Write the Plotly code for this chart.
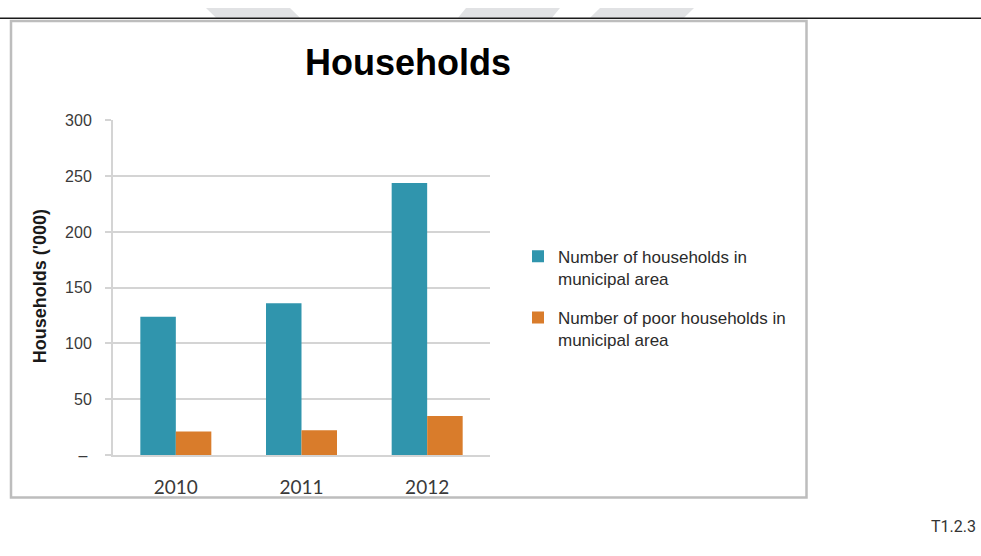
import plotly.graph_objects as go

W, H = 981, 556

years = ["2010", "2011", "2012"]
households = [124, 136, 244]
poor_households = [21, 22, 35]
series_names = [
    "Number of households in<br>municipal area",
    "Number of poor households in<br>municipal area",
]
y_tickvals = [0, 50, 100, 150, 200, 250, 300]
y_ticktext = ["\u2013\u00a0", "50", "100", "150", "200", "250", "300"]

TEAL = "#3095ad"
ORANGE = "#d97c2b"
GRID = "#d4d4d4"


def px_x(x):
    return x / W


def px_y(y):
    return 1 - y / H


fig = go.Figure()
fig.add_trace(go.Bar(x=years, y=households, name=series_names[0],
                     marker=dict(color=TEAL, line=dict(width=0)),
                     legendgroup="a"))
fig.add_trace(go.Bar(x=years, y=poor_households, name=series_names[1],
                     marker=dict(color=ORANGE, line=dict(width=0)),
                     legendgroup="b"))

fig.update_layout(
    width=W, height=H,
    margin=dict(l=0, r=0, t=0, b=0),
    paper_bgcolor="white", plot_bgcolor="white",
    barmode="group", bargap=0.435, bargroupgap=0,
    showlegend=True,
    legend=dict(
        x=px_x(518), xanchor="left",
        y=px_y(238), yanchor="top",
        valign="top",
        traceorder="grouped",
        tracegroupgap=14,
        font=dict(family="Liberation Sans, Arial, sans-serif", size=17, color="#2b2b2b"),
        bgcolor="rgba(0,0,0,0)",
    ),
    xaxis=dict(
        domain=[px_x(113), px_x(490)],
        type="category",
        showgrid=False,
        showline=True, linecolor=GRID, linewidth=2,
        ticks="", ticklabelstandoff=14,
        tickfont=dict(family="Lato, sans-serif", size=19, color="#3a3a3a"),
    ),
    yaxis=dict(
        domain=[px_y(461), px_y(116)],
        range=[0, 300],
        tickvals=y_tickvals, ticktext=y_ticktext,
        showgrid=True, gridcolor=GRID, gridwidth=1.5,
        showline=True, linecolor=GRID, linewidth=2,
        ticks="outside", ticklen=6, tickcolor=GRID, tickwidth=1.5,
        ticklabelstandoff=10,
        tickfont=dict(family="Liberation Sans, Arial, sans-serif", size=16, color="#3a3a3a"),
        zeroline=False,
    ),
)

# Chart title and rotated axis title
fig.add_annotation(
    text="<b>Households</b>", xref="paper", yref="paper",
    x=px_x(408), y=px_y(56), xanchor="center", yanchor="middle",
    showarrow=False,
    font=dict(family="Liberation Sans, Arial, sans-serif", size=36, color="#000000"),
)
fig.add_annotation(
    text="<b>Households ('000)</b>", xref="paper", yref="paper",
    x=px_x(40), y=px_y(287), xanchor="center", yanchor="middle",
    textangle=-90, showarrow=False,
    font=dict(family="Liberation Sans, Arial, sans-serif", size=18, color="#1a1a1a"),
)

# Reference label at the bottom right
fig.add_annotation(
    text="T1.2.3", xref="paper", yref="paper",
    x=px_x(978), y=px_y(535), xanchor="right", yanchor="middle",
    showarrow=False,
    font=dict(family="Roboto, sans-serif", size=16, color="#333333"),
)

# Faint watermark bands above the rule
for x0, x1, x2, x3 in [(206, 290, 300, 216), (466, 560, 552, 458), (600, 694, 684, 590)]:
    fig.add_shape(
        type="path", xref="paper", yref="paper",
        path=f"M {px_x(x0)} {px_y(0)} L {px_x(x1)} {px_y(0)} L {px_x(x2)} {px_y(10)} L {px_x(x3)} {px_y(10)} Z",
        fillcolor="#e1e2e4", line=dict(width=0), layer="below",
    )

# Page rule and chart frame
fig.add_shape(type="line", xref="paper", yref="paper",
              x0=0, x1=1, y0=px_y(10.5), y1=px_y(10.5),
              line=dict(color="#1a1a1a", width=1.5))
fig.add_shape(type="rect", xref="paper", yref="paper",
              x0=px_x(11), x1=px_x(806.5), y0=px_y(505), y1=px_y(13.5),
              line=dict(color="#bdbdbd", width=2.5), fillcolor="rgba(0,0,0,0)")

# Pin the graph to the top-left corner of the window
pin_js = (
    "document.body.style.margin='0';"
    "var gd=document.getElementById('{plot_id}');"
    "gd.style.position='fixed';gd.style.top='0';gd.style.left='0';"
)
fig.write_html("out.html", post_script=pin_js)
